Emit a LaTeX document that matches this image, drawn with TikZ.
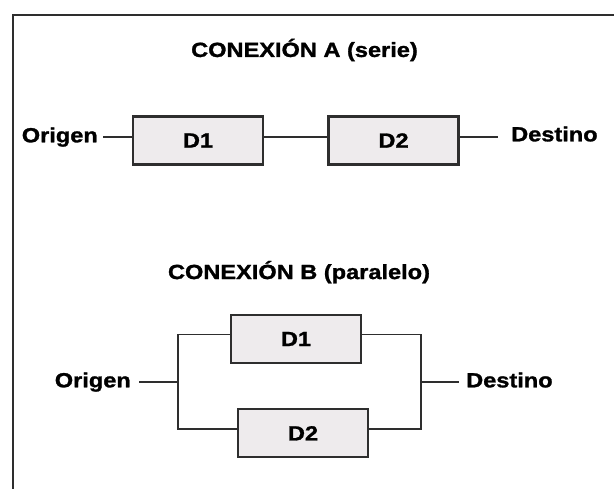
\documentclass[tikz,border=0pt]{standalone}
\usepackage{fontspec}
\usepackage{tikz}
\newfontfamily\schrift{Liberation Sans}[FakeStretch=1.15,FakeBold=1.3]
\definecolor{linie}{HTML}{2E2E2E}
\definecolor{kastenfarbe}{HTML}{EEEBED}

\begin{document}
\begin{tikzpicture}[x=1pt,y=-1pt,
    txt/.style={font=\schrift\bfseries\fontsize{20.5}{24}\selectfont,text=black},
    beschr/.style={txt,inner sep=0pt,text height=15pt,text depth=4.3pt},
    kasten/.style={txt,draw=linie,line width=2.4pt,fill=kastenfarbe,minimum width=130pt,minimum height=48pt},
    leitung/.style={draw=linie,line width=1.9pt}]
    \useasboundingbox (0,0) rectangle (614,489);

    % Rahmen (oben und links)
    \draw[linie,line width=2.6pt] (614,15) -- (13,15) -- (13,489);

    % Ueberschriften
    \node[beschr] (titelA) at (304.5,51.6) {CONEXIÓN A (serie)};
    \node[beschr] (titelB) at (299,273.7) {CONEXIÓN B (paralelo)};

    % Verbindung A: D1 und D2 hintereinander
    \node[kasten] (d1A) at (198,140.5) {D1};
    \node[kasten] (d2A) at (393.5,140.5) {D2};
    \node[beschr,anchor=east] (origenA) at (98,137) {Origen};
    \node[beschr,anchor=west] (destinoA) at (511,136) {Destino};
    \draw[leitung] ([xshift=5pt]origenA.east) -- (origenA.east -| d1A.west);
    \draw[leitung] ([yshift=3.5pt]d1A.east) -- ([yshift=3.5pt]d2A.west);
    \draw[leitung] ([yshift=3.5pt]d2A.east) -- ([xshift=-13pt,yshift=-1pt]destinoA.west);

    % Verbindung B: D1 und D2 nebeneinander
    \node[kasten] (d1B) at (296,339) {D1};
    \node[kasten] (d2B) at (303,433.3) {D2};
    \coordinate (knotenL) at (178,382);
    \coordinate (knotenR) at (421,382);
    \node[beschr,anchor=east] (origenB) at (131,382) {Origen};
    \node[beschr,anchor=west] (destinoB) at (466,382) {Destino};
    \draw[leitung] ([yshift=4.5pt]d1B.west) -| (knotenL) |- ([yshift=4.5pt]d2B.west);
    \draw[leitung] ([yshift=4.5pt]d1B.east) -| (knotenR) |- ([yshift=4.5pt]d2B.east);
    \draw[leitung] ([xshift=8pt]origenB.east) -- (knotenL);
    \draw[leitung] (knotenR) -- ([xshift=-7.5pt]destinoB.west);
\end{tikzpicture}
\end{document}
